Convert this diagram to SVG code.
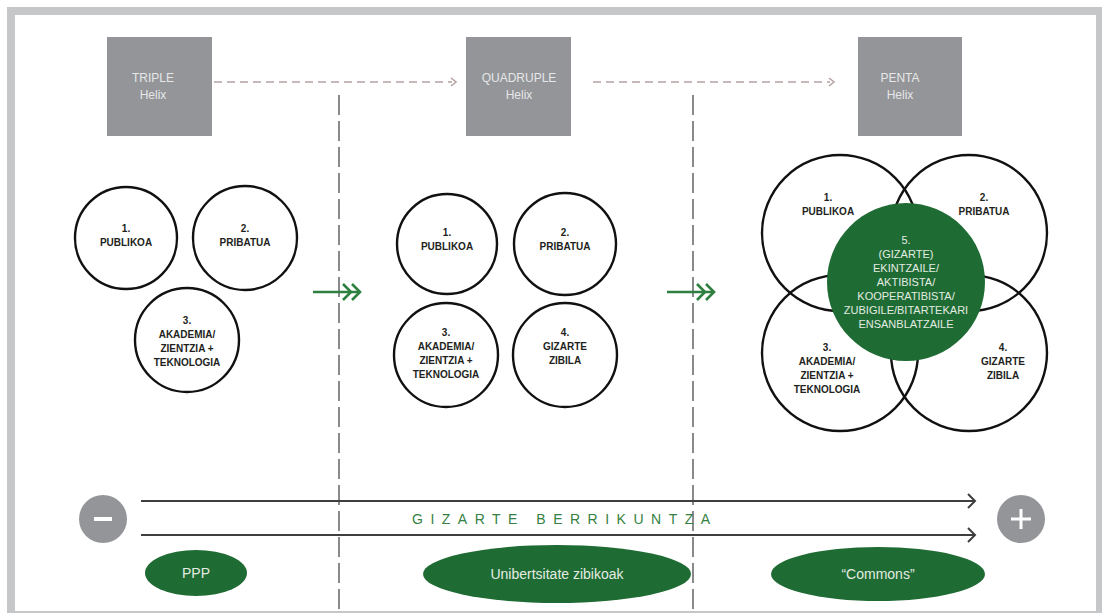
<svg xmlns="http://www.w3.org/2000/svg" width="1102" height="613" viewBox="0 0 1102 613">
<defs>
<style>
.frame{fill:#c6c7c9}
.box{fill:#939598}
.boxt{font-family:"Liberation Sans",Arial,sans-serif;font-size:12px;fill:#e6e7e8;text-anchor:middle}
.ring{fill:#fff;stroke:#111;stroke-width:2.4}
.ringo{fill:none;stroke:#111;stroke-width:2.4}
.lbl{font-family:"Liberation Sans",Arial,sans-serif;font-size:10px;font-weight:bold;fill:#231f20;text-anchor:middle}
.glbl{font-family:"Liberation Sans",Arial,sans-serif;font-size:11px;fill:#e3ece2;text-anchor:middle}
.green{fill:#1f6b34}
.gt{font-family:"Liberation Sans",Arial,sans-serif;font-size:14px;fill:#e3ece2;text-anchor:middle}
.dash{stroke:#b5a3a2;stroke-width:1.6;fill:none;stroke-dasharray:8 5}
.vdash{stroke:#2b2b2b;stroke-width:1.1;fill:none;stroke-dasharray:20 6}
.garrow{stroke:#2f8040;stroke-width:2.6;fill:none}
.axis{stroke:#3f3f3f;stroke-width:2;fill:none}
.pm{fill:#939598}
</style>
</defs>
<rect x="0" y="0" width="1102" height="613" fill="#fff"/>
<path class="frame" fill-rule="evenodd" d="M7 7H1102V613H7Z M15 15V611H1096V15Z"/>

<g id="connectors">
<line class="dash" x1="214" y1="82" x2="452" y2="82"/>
<polyline points="451,78 456,82 451,86" fill="none" stroke="#b5a3a2" stroke-width="1.6"/>
<line class="dash" x1="593" y1="82" x2="830" y2="82"/>
<polyline points="829,78 834,82 829,86" fill="none" stroke="#b5a3a2" stroke-width="1.6"/>
<line class="vdash" x1="339" y1="95" x2="339" y2="611"/>
<line class="vdash" x1="693" y1="95" x2="693" y2="611"/>
<g id="garrow1">
<line class="garrow" x1="313" y1="292" x2="358" y2="292"/>
<polyline class="garrow" points="343,284 351,292 343,300"/>
<polyline class="garrow" points="352,284 360,292 352,300"/>
</g>
<g id="garrow2">
<line class="garrow" x1="667" y1="292" x2="712" y2="292"/>
<polyline class="garrow" points="697,284 705,292 697,300"/>
<polyline class="garrow" points="706,284 714,292 706,300"/>
</g>
<line class="axis" x1="141" y1="501" x2="974" y2="501"/>
<polyline class="axis" points="968,494 975,501 968,508"/>
<line class="axis" x1="141" y1="535" x2="974" y2="535"/>
<polyline class="axis" points="968,528 975,535 968,542"/>
</g>

<g id="triple">
<rect class="box" x="107" y="37" width="105" height="99"/>
<text class="boxt" x="153" y="82">TRIPLE</text>
<text class="boxt" x="153" y="99">Helix</text>
</g>
<g id="quadruple">
<rect class="box" x="466" y="37" width="105" height="99"/>
<text class="boxt" x="519" y="82">QUADRUPLE</text>
<text class="boxt" x="519" y="99">Helix</text>
</g>
<g id="penta">
<rect class="box" x="858" y="37" width="104" height="99"/>
<text class="boxt" x="900" y="82">PENTA</text>
<text class="boxt" x="900" y="99">Helix</text>
</g>

<g id="t1">
<circle class="ring" cx="126" cy="238" r="51"/>
<text class="lbl" x="126" y="232">1.</text>
<text class="lbl" x="126" y="246">PUBLIKOA</text>
</g>
<g id="t2">
<circle class="ring" cx="245" cy="238" r="52"/>
<text class="lbl" x="245" y="232">2.</text>
<text class="lbl" x="245" y="246">PRIBATUA</text>
</g>
<g id="t3">
<circle class="ring" cx="187" cy="340" r="52"/>
<text class="lbl" x="187" y="324">3.</text>
<text class="lbl" x="187" y="338">AKADEMIA/</text>
<text class="lbl" x="187" y="352">ZIENTZIA +</text>
<text class="lbl" x="187" y="366">TEKNOLOGIA</text>
</g>

<g id="q1">
<circle class="ring" cx="447" cy="244" r="50"/>
<text class="lbl" x="447" y="236">1.</text>
<text class="lbl" x="447" y="250">PUBLIKOA</text>
</g>
<g id="q2">
<circle class="ring" cx="565" cy="244" r="51"/>
<text class="lbl" x="565" y="236">2.</text>
<text class="lbl" x="565" y="250">PRIBATUA</text>
</g>
<g id="q3">
<circle class="ring" cx="446" cy="355" r="52"/>
<text class="lbl" x="446" y="336">3.</text>
<text class="lbl" x="446" y="350">AKADEMIA/</text>
<text class="lbl" x="446" y="364">ZIENTZIA +</text>
<text class="lbl" x="446" y="378">TEKNOLOGIA</text>
</g>
<g id="q4">
<circle class="ring" cx="565" cy="355" r="52"/>
<text class="lbl" x="565" y="336">4.</text>
<text class="lbl" x="565" y="350">GIZARTE</text>
<text class="lbl" x="565" y="364">ZIBILA</text>
</g>

<g id="p1">
<circle class="ringo" cx="840" cy="233" r="78"/>
<text class="lbl" x="828" y="201">1.</text>
<text class="lbl" x="828" y="215">PUBLIKOA</text>
</g>
<g id="p2">
<circle class="ringo" cx="969" cy="233" r="78"/>
<text class="lbl" x="984" y="201">2.</text>
<text class="lbl" x="984" y="215">PRIBATUA</text>
</g>
<g id="p3">
<circle class="ringo" cx="840" cy="353" r="78"/>
<text class="lbl" x="827" y="351">3.</text>
<text class="lbl" x="827" y="365">AKADEMIA/</text>
<text class="lbl" x="827" y="379">ZIENTZIA +</text>
<text class="lbl" x="827" y="393">TEKNOLOGIA</text>
</g>
<g id="p4">
<circle class="ringo" cx="969" cy="353" r="78"/>
<text class="lbl" x="1003" y="351">4.</text>
<text class="lbl" x="1003" y="365">GIZARTE</text>
<text class="lbl" x="1003" y="379">ZIBILA</text>
</g>
<g id="p5">
<circle class="green" cx="906" cy="282" r="79"/>
<text class="glbl" x="906" y="244">5.</text>
<text class="glbl" x="906" y="258">(GIZARTE)</text>
<text class="glbl" x="906" y="272">EKINTZAILE/</text>
<text class="glbl" x="906" y="286">AKTIBISTA/</text>
<text class="glbl" x="906" y="300">KOOPERATIBISTA/</text>
<text class="glbl" x="906" y="314">ZUBIGILE/BITARTEKARI</text>
<text class="glbl" x="906" y="328">ENSANBLATZAILE</text>
</g>

<g id="minus">
<circle class="pm" cx="103" cy="519" r="24"/>
<rect x="94" y="517" width="18" height="4" fill="#fff"/>
</g>
<g id="plus">
<circle class="pm" cx="1021" cy="519" r="24"/>
<rect x="1011" y="517.5" width="20" height="3" fill="#fff"/>
<rect x="1019.5" y="509" width="3" height="20" fill="#fff"/>
</g>
<g id="axis-label">
<text x="412" y="524" font-family="'Liberation Sans',Arial,sans-serif" font-size="14" letter-spacing="7.5" fill="#357f42">GIZARTE BERRIKUNTZA</text>
</g>

<g id="ppp">
<ellipse class="green" cx="196" cy="573" rx="51" ry="23"/>
<text class="gt" x="196" y="578">PPP</text>
</g>
<g id="unib">
<ellipse class="green" cx="557" cy="574" rx="134" ry="29"/>
<text class="gt" x="557" y="579">Unibertsitate zibikoak</text>
</g>
<g id="commons">
<ellipse class="green" cx="878" cy="574" rx="107" ry="27"/>
<text class="gt" x="878" y="579">“Commons”</text>
</g>
</svg>
